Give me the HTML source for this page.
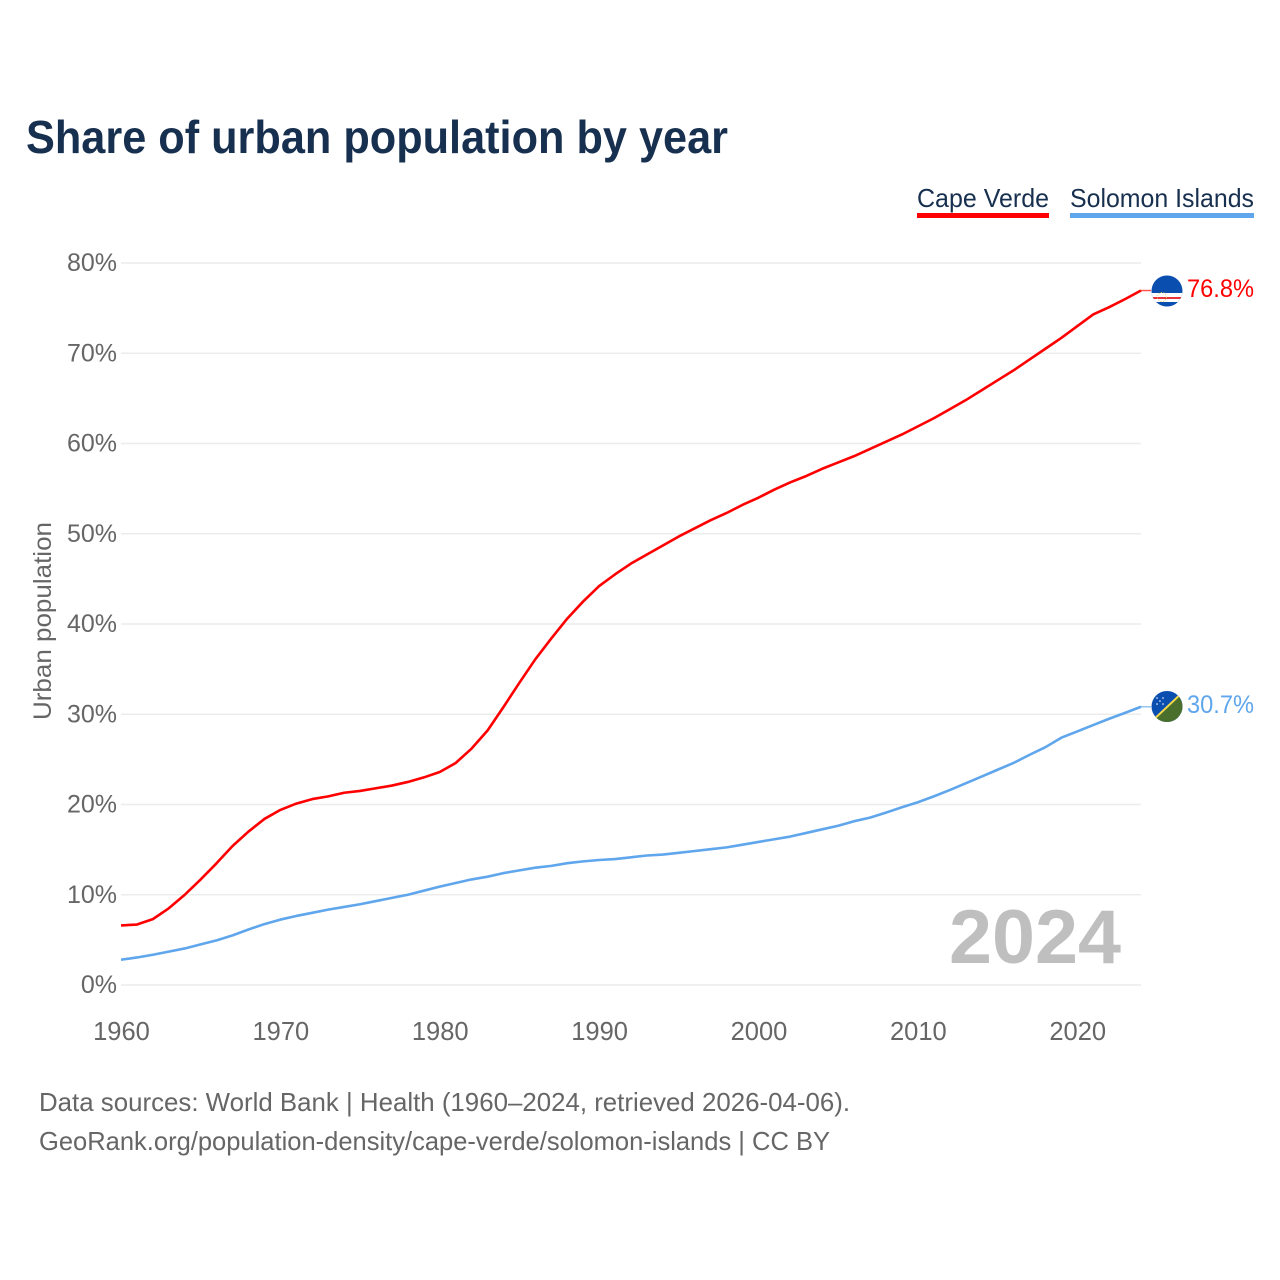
<!DOCTYPE html>
<html lang="en">
<head>
<meta charset="utf-8">
<title>Share of urban population by year</title>
<style>
html,body{margin:0;padding:0;background:#fff;}
svg{display:block;}
text{font-family:"Liberation Sans",sans-serif;}
</style>
</head>
<body>
<svg id="chart" width="1280" height="1280" viewBox="0 0 1280 1280" xmlns="http://www.w3.org/2000/svg">
  <defs>
    <clipPath id="clip-cv"><circle cx="1167" cy="291" r="15.5"/></clipPath>
    <clipPath id="clip-si"><circle cx="1167" cy="706.5" r="15.5"/></clipPath>
  </defs>
  <rect width="1280" height="1280" fill="#ffffff"/>
  <text x="26" y="153" font-size="46" font-weight="700" fill="#18304f" textLength="702" lengthAdjust="spacingAndGlyphs">Share of urban population by year</text>

  <g>
    <g>
      <text x="917" y="207" font-size="26" fill="#18304f" textLength="132" lengthAdjust="spacingAndGlyphs">Cape Verde</text>
      <rect x="917" y="213" width="132" height="5" fill="#ff0000"/>
    </g>
    <g>
      <text x="1070" y="207" font-size="26" fill="#18304f" textLength="184" lengthAdjust="spacingAndGlyphs">Solomon Islands</text>
      <rect x="1070" y="213" width="184" height="5" fill="#5fa6ec"/>
    </g>
  </g>

  <text transform="translate(51,720) rotate(-90)" font-size="25" fill="#666666" textLength="198" lengthAdjust="spacingAndGlyphs">Urban population</text>

  <g id="grid"></g>
  <g id="yticks"></g>
  <g id="xticks"></g>

  <text x="949" y="963" font-size="76" font-weight="700" fill="#bfbfbf" textLength="172" lengthAdjust="spacingAndGlyphs">2024</text>

  <g id="series"></g>

  <g clip-path="url(#clip-cv)">
    <rect x="1151" y="275" width="32" height="32" fill="#0a4fb0"/>
    <rect x="1151" y="293" width="32" height="4" fill="#ffffff"/>
    <rect x="1151" y="297" width="32" height="2" fill="#e8323c"/>
    <rect x="1151" y="299" width="32" height="3" fill="#ffffff"/>
    <circle cx="1162" cy="297" r="4.5" fill="none" stroke="#e8cf5a" stroke-width="1" stroke-dasharray="1 1.5"/>
  </g>
  <g clip-path="url(#clip-si)">
    <rect x="1151" y="691" width="32" height="32" fill="#0a4fb0"/>
    <polygon points="1184,691 1184,723 1150,723" fill="#4a6f2c"/>
    <line x1="1184" y1="691" x2="1150" y2="723" stroke="#f5d94a" stroke-width="2"/>
    <g fill="#ffffff">
      <circle cx="1157" cy="698" r="0.8"/><circle cx="1163" cy="698" r="0.8"/>
      <circle cx="1160" cy="701" r="0.8"/><circle cx="1157" cy="704" r="0.8"/>
      <circle cx="1163" cy="704" r="0.8"/>
    </g>
  </g>

  <text x="1187" y="297" font-size="25" fill="#ff0000" textLength="67" lengthAdjust="spacingAndGlyphs">76.8%</text>
  <text x="1187" y="713" font-size="25" fill="#5fa6ec" textLength="67" lengthAdjust="spacingAndGlyphs">30.7%</text>

  <text x="39" y="1111" font-size="26" fill="#666666" textLength="811" lengthAdjust="spacingAndGlyphs">Data sources: World Bank | Health (1960–2024, retrieved 2026-04-06).</text>
  <text x="39" y="1150" font-size="26" fill="#666666" textLength="791" lengthAdjust="spacingAndGlyphs">GeoRank.org/population-density/cape-verde/solomon-islands | CC BY</text>
</svg>
<script>
const startYear = 1960;
const capeVerde = [6.6,6.7,7.3,8.5,10.0,11.7,13.5,15.4,17.0,18.4,19.4,20.1,20.6,20.9,21.3,21.5,21.8,22.1,22.5,23.0,23.6,24.6,26.2,28.2,30.8,33.5,36.1,38.4,40.6,42.5,44.2,45.5,46.7,47.7,48.7,49.7,50.6,51.5,52.3,53.2,54.0,54.9,55.7,56.4,57.2,57.9,58.6,59.4,60.2,61.0,61.9,62.8,63.8,64.8,65.9,67.0,68.1,69.3,70.5,71.7,73.0,74.3,75.1,76.0,76.95];
const solomonIslands = [2.8,3.05,3.35,3.7,4.05,4.5,4.95,5.5,6.15,6.75,7.25,7.65,8.0,8.35,8.65,8.95,9.3,9.65,10.0,10.45,10.9,11.3,11.7,12.0,12.4,12.7,13.0,13.2,13.5,13.7,13.85,13.95,14.15,14.35,14.45,14.65,14.85,15.05,15.25,15.55,15.85,16.15,16.45,16.85,17.25,17.65,18.15,18.55,19.1,19.7,20.25,20.9,21.6,22.35,23.1,23.85,24.6,25.5,26.35,27.4,28.1,28.8,29.5,30.15,30.83];
const yTickValues = [0,10,20,30,40,50,60,70,80];
const xTickValues = [1960,1970,1980,1990,2000,2010,2020];

const NS = 'http://www.w3.org/2000/svg';
const plot = {left:121, right:1141, top:263, bottom:985, xMin:1960, xMax:2024, yMin:0, yMax:80};
function xScale(year){ return plot.left + (year-plot.xMin)/(plot.xMax-plot.xMin)*(plot.right-plot.left); }
function yScale(v){ return plot.bottom - (v-plot.yMin)/(plot.yMax-plot.yMin)*(plot.bottom-plot.top); }

const gridG = document.getElementById('grid');
const yG = document.getElementById('yticks');
const xG = document.getElementById('xticks');
const seriesG = document.getElementById('series');

yTickValues.forEach(function(v){
  const l = document.createElementNS(NS,'line');
  
  
  l.setAttribute('x1', plot.left);
  l.setAttribute('x2', plot.right);
  l.setAttribute('y1', yScale(v));
  l.setAttribute('y2', yScale(v));
  l.setAttribute('stroke', '#ececec');
  l.setAttribute('stroke-width', '1.6');
  gridG.appendChild(l);

  const t = document.createElementNS(NS,'text');
  
  
  t.setAttribute('x', 117);
  t.setAttribute('y', yScale(v)+8);
  t.setAttribute('text-anchor', 'end');
  t.setAttribute('font-size', '25');
  t.setAttribute('fill', '#666666');
  t.textContent = v + '%';
  yG.appendChild(t);
});

xTickValues.forEach(function(y){
  const t = document.createElementNS(NS,'text');
  
  
  t.setAttribute('x', xScale(y) + 0.5);
  t.setAttribute('y', 1040);
  t.setAttribute('text-anchor', 'middle');
  t.setAttribute('font-size', '25.5');
  t.setAttribute('fill', '#666666');
  t.textContent = y;
  xG.appendChild(t);
});

function drawSeries(values, color, name){
  const pts = values.map(function(v,i){ return xScale(startYear+i).toFixed(2)+','+yScale(v).toFixed(2); });
  const line = document.createElementNS(NS,'polyline');
  
  
  line.setAttribute('points', pts.join(' '));
  line.setAttribute('fill', 'none');
  line.setAttribute('stroke', color);
  line.setAttribute('stroke-width', '2.6');
  line.setAttribute('stroke-linejoin', 'round');
  seriesG.appendChild(line);

  const last = values[values.length-1];
  const c = document.createElementNS(NS,'line');
  
  
  c.setAttribute('x1', xScale(startYear+values.length-1));
  c.setAttribute('x2', xScale(startYear+values.length-1)+10);
  c.setAttribute('y1', yScale(last));
  c.setAttribute('y2', yScale(last));
  c.setAttribute('stroke', color);
  c.setAttribute('stroke-width', '1.4');
  c.setAttribute('stroke-opacity', '0.7');
  seriesG.appendChild(c);
}
drawSeries(capeVerde, '#ff0000', 'cape-verde');
drawSeries(solomonIslands, '#5fa6ec', 'solomon-islands');
</script>
</body>
</html>
